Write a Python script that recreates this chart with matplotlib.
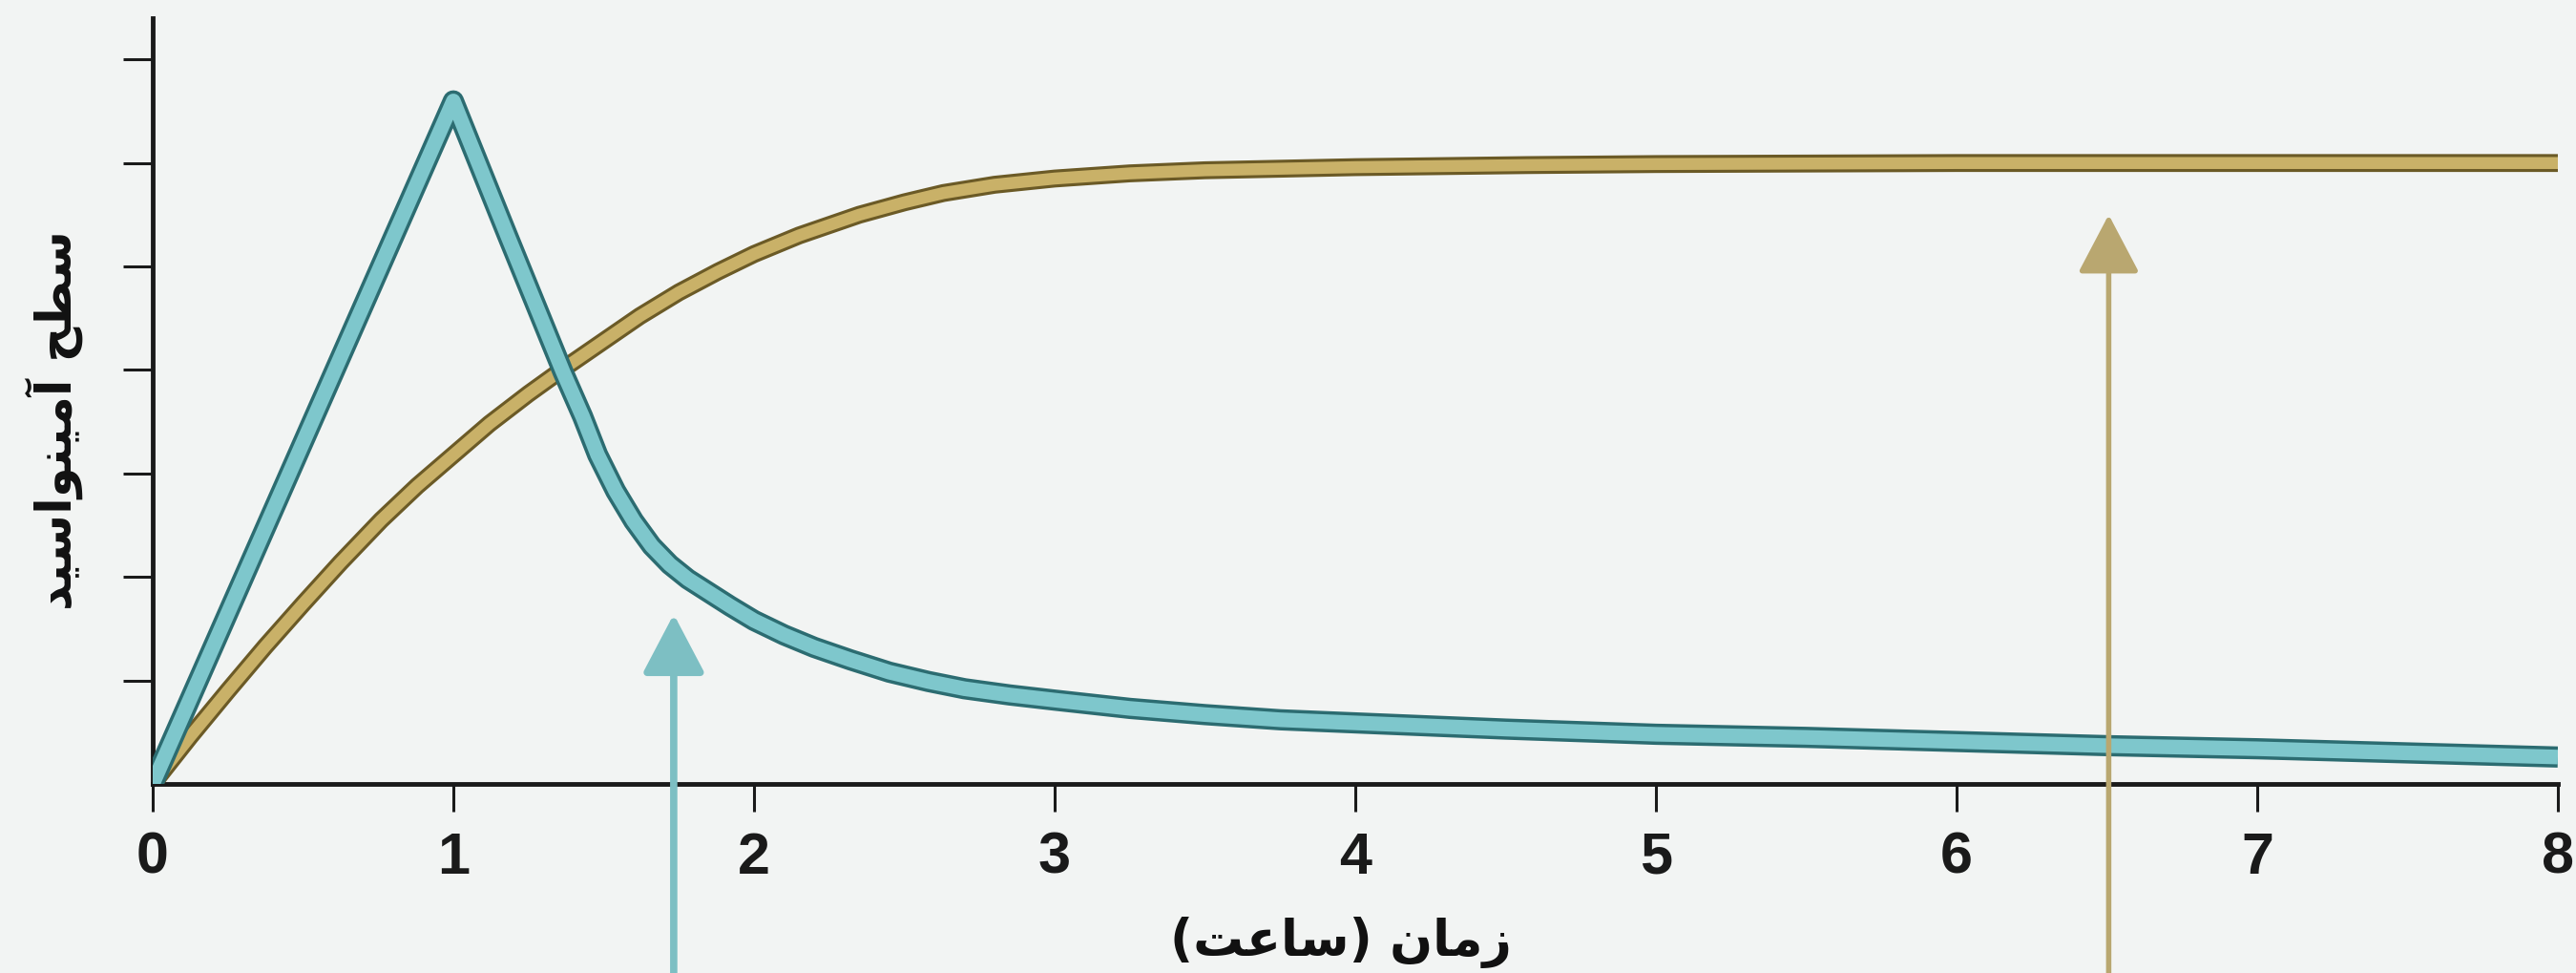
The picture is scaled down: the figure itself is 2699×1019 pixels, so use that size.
import matplotlib.pyplot as plt
import matplotlib.patheffects as pe

# time (hours) and amino acid level (in y-tick units)
t_blue = [0, 1.0, 1.18, 1.365, 1.43, 1.48, 1.54, 1.6, 1.66, 1.72, 1.78, 1.85, 1.92, 2.0, 2.1, 2.2,
          2.32, 2.45, 2.58, 2.7, 2.85, 3.0, 3.25, 3.5, 3.75, 4.0, 4.5, 5.0, 5.5, 6.0, 6.5, 7.0, 7.5, 8.0]
lvl_blue = [0, 6.6, 5.3, 3.98, 3.55, 3.18, 2.83, 2.54, 2.3, 2.12, 1.98, 1.85, 1.72, 1.58, 1.44, 1.32,
            1.2, 1.08, 0.99, 0.92, 0.86, 0.81, 0.73, 0.67, 0.62, 0.59, 0.53, 0.48, 0.45, 0.41, 0.37, 0.34, 0.3, 0.26]

t_gold = [0, 0.125, 0.25, 0.375, 0.5, 0.625, 0.76, 0.88, 1.0, 1.12, 1.25, 1.365, 1.5, 1.62, 1.75, 1.88,
          2.0, 2.15, 2.35, 2.5, 2.63, 2.8, 3.0, 3.25, 3.5, 4.0, 4.57, 5.0, 6.0, 7.0, 8.0]
lvl_gold = [0, 0.46, 0.9, 1.33, 1.74, 2.14, 2.55, 2.88, 3.18, 3.48, 3.77, 4.01, 4.28, 4.52, 4.75, 4.95,
            5.12, 5.3, 5.5, 5.62, 5.71, 5.79, 5.85, 5.9, 5.93, 5.96, 5.98, 5.99, 6.0, 6.0, 6.0]

xticks = [0, 1, 2, 3, 4, 5, 6, 7, 8]
yticks = [1, 2, 3, 4, 5, 6, 7]

# arrow tips (x, y)
arrow_blue = (1.733, 1.64)
arrow_gold = (6.506, 5.5)

# Persian labels, written in shaped (presentation) forms, visual order
xlabel = "(\uFE96\uFECB\uFE8E\uFEB3) \uFEE5\uFE8E\uFEE3\uFEAF"      # زمان (ساعت)
ylabel = "\uFEAA\uFEF4\uFEB3\uFE8D\uFEEE\uFEE8\uFEF4\uFEE3\uFE81 \uFEA2\uFEC4\uFEB3"  # سطح آمینواسید

bg = '#f2f4f3'
fig = plt.figure(figsize=(26.99, 10.2), dpi=100, facecolor=bg)
ax = fig.add_axes([160/2699, 198/1020, 2520/2699, 802/1020])
ax.set_facecolor(bg)

ax.plot(t_gold, lvl_gold, color='#c9b168', lw=9, solid_capstyle='butt', solid_joinstyle='round',
        path_effects=[pe.Stroke(linewidth=13.5, foreground='#6b5a26'), pe.Normal()], zorder=3)
ax.plot(t_blue, lvl_blue, color='#7ec7cc', lw=11, solid_capstyle='butt', solid_joinstyle='round',
        path_effects=[pe.Stroke(linewidth=16, foreground='#2c6c71'), pe.Normal()], zorder=4)

for (x, y), c, w in [(arrow_blue, '#7dbfc3', 5.5), (arrow_gold, '#b9a770', 4)]:
    ax.annotate('', xy=(x, y), xytext=(x, 0), textcoords=('data', 'figure fraction'),
                arrowprops=dict(arrowstyle='-|>,head_length=1.9,head_width=1.0', mutation_scale=20,
                                color=c, lw=w, shrinkA=0, shrinkB=0),
                annotation_clip=False, zorder=6)

ax.set_xlim(0, 8)
ax.set_ylim(0, 7.4)
ax.set_xticks(xticks)
ax.set_yticks(yticks)
ax.set_yticklabels([])
ax.set_xticklabels([str(v) for v in xticks], fontsize=44, fontweight='bold', family='Liberation Sans', color='#1a1a1a')
ax.tick_params(axis='x', length=21, width=2.2, pad=14, color='#1a1a1a')
ax.tick_params(axis='y', length=22, width=2.2, color='#1a1a1a')
for s in ['top', 'right']:
    ax.spines[s].set_visible(False)
for s in ['left', 'bottom']:
    ax.spines[s].set_linewidth(3.5)
    ax.spines[s].set_color('#1a1a1a')

ax.set_xlabel(xlabel, fontsize=38, fontweight='bold', family=['DejaVu Sans'], va='center', color='#111111')
ax.xaxis.set_label_coords(0.494, -0.206)
ax.set_ylabel(ylabel, fontsize=37, fontweight='bold', family=['DejaVu Sans'], va='center', color='#111111')
ax.yaxis.set_label_coords(-0.041, 0.476)

fig.savefig('out.png', dpi=100, facecolor=bg)
